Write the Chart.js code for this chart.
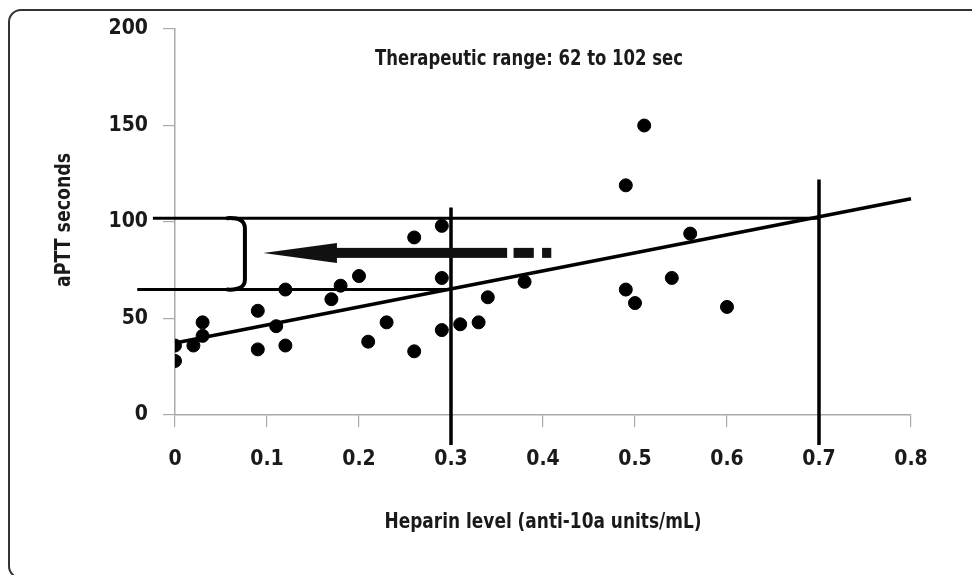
<!DOCTYPE html>
<html>
<head>
<meta charset="utf-8">
<script src="https://cdn.jsdelivr.net/npm/chart.js@4.4.1/dist/chart.umd.min.js"></script>
<style>
  html, body { margin: 0; padding: 0; background: #fff; }
  #wrap { width: 972px; height: 575px; position: relative; }
</style>
</head>
<body>
<div id="wrap"><canvas id="chart"></canvas></div>
<script>
// Heparin level (x) vs aPTT seconds (y)
const heparin = [0, 0, 0.02, 0.03, 0.03, 0.09, 0.09, 0.11, 0.12, 0.12, 0.17, 0.18, 0.20, 0.21, 0.23, 0.26,
    0.26, 0.29, 0.29, 0.29, 0.31, 0.33, 0.34, 0.38, 0.49, 0.49, 0.50, 0.51, 0.54, 0.56, 0.60];
const aptt = [36, 28, 36, 48, 41, 54, 34, 46, 65, 36, 60, 67, 72, 38, 48, 92,
    33, 98, 71, 44, 47, 48, 61, 69, 119, 65, 58, 150, 71, 94, 56];

// regression line
const fitX = [0, 0.8];
const fitY = [37.3, 112];

// therapeutic range lines
const rangeHigh = 102;
const rangeLow = 65;
const levelLow = 0.3;
const levelHigh = 0.7;

const xTicks = [0, 0.1, 0.2, 0.3, 0.4, 0.5, 0.6, 0.7, 0.8];
const yTicks = [0, 50, 100, 150, 200];

const FONT = "'DejaVu Sans Condensed', 'Liberation Sans Narrow', 'Roboto', sans-serif";

const points = heparin.map((x, i) => ({ x: x, y: aptt[i] }));

function lineSet(data, width) {
    return {
        type: 'scatter',
        data: data,
        showLine: true,
        borderColor: '#000',
        borderWidth: width,
        pointRadius: 0,
        pointHoverRadius: 0,
        clip: false
    };
}

// text squeezed to the width it has in the picture
function fitText(ctx, text, cx, cy, width) {
    const w = ctx.measureText(text).width;
    ctx.save();
    ctx.translate(cx, cy);
    ctx.scale(Math.min(1, width / w), 1);
    ctx.fillText(text, 0, 0);
    ctx.restore();
}

// frame, arrow, bracket and texts
const extras = {
    id: 'extras',
    beforeDraw(chart) {
        const ctx = chart.ctx;
        ctx.save();
        ctx.strokeStyle = '#333';
        ctx.lineWidth = 2;
        ctx.beginPath();
        ctx.roundRect(9, 10, 1000, 568, 12);
        ctx.stroke();
        ctx.restore();
    },
    afterDatasetsDraw(chart) {
        const ctx = chart.ctx;
        const x = chart.scales.x, y = chart.scales.y;
        ctx.save();
        ctx.fillStyle = '#111';
        ctx.strokeStyle = '#000';

        // arrow
        const ay = y.getPixelForValue(84);
        const tip = x.getPixelForValue(0.096);
        const head = x.getPixelForValue(0.176);
        ctx.beginPath();
        ctx.moveTo(tip, ay);
        ctx.lineTo(head, ay - 10);
        ctx.lineTo(head, ay + 10);
        ctx.closePath();
        ctx.fill();
        const segs = [[0.175, 0.361], [0.368, 0.390], [0.399, 0.409]];
        segs.forEach(s => {
            const a = x.getPixelForValue(s[0]), b = x.getPixelForValue(s[1]);
            ctx.fillRect(a, ay - 5, b - a, 10);
        });

        // bracket
        const bx = x.getPixelForValue(0.076);
        const bl = x.getPixelForValue(0.057);
        const top = y.getPixelForValue(rangeHigh), bot = y.getPixelForValue(rangeLow);
        ctx.lineWidth = 4;
        ctx.lineCap = 'round';
        ctx.beginPath();
        ctx.moveTo(bl, top);
        ctx.quadraticCurveTo(bx, top - 1, bx, top + 10);
        ctx.lineTo(bx, bot - 10);
        ctx.quadraticCurveTo(bx, bot + 1, bl, bot);
        ctx.stroke();

        // texts
        ctx.fillStyle = '#1a1a1a';
        ctx.textAlign = 'center';
        ctx.textBaseline = 'middle';
        ctx.font = 'bold 21px ' + FONT;
        fitText(ctx, 'Therapeutic range: 62 to 102 sec', 529, 60, 308);
        fitText(ctx, 'Heparin level (anti-10a units/mL)', 543, 523, 317);
        ctx.translate(65, 220);
        ctx.rotate(-Math.PI / 2);
        fitText(ctx, 'aPTT seconds', 0, 0, 134);
        ctx.restore();
    }
};

new Chart(document.getElementById('chart'), {
    type: 'scatter',
    data: {
        datasets: [
            {
                data: points,
                backgroundColor: '#000',
                borderColor: '#000',
                pointRadius: 6.5,
                pointHoverRadius: 6.5
            },
            lineSet(fitX.map((v, i) => ({ x: v, y: fitY[i] })), 3.5),
            lineSet([{ x: -0.024, y: rangeHigh }, { x: levelHigh, y: rangeHigh }], 3),
            lineSet([{ x: -0.041, y: rangeLow }, { x: levelLow, y: rangeLow }], 3),
            lineSet([{ x: levelLow, y: 107.5 }, { x: levelLow, y: -15.5 }], 3.5),
            lineSet([{ x: levelHigh, y: 122 }, { x: levelHigh, y: -15.5 }], 3.5)
        ]
    },
    options: {
        responsive: true,
        maintainAspectRatio: false,
        animation: false,
        events: [],
        layout: { padding: { left: 0, top: 29, right: 61, bottom: 0 } },
        plugins: {
            legend: { display: false },
            tooltip: { enabled: false }
        },
        scales: {
            x: {
                type: 'linear',
                min: 0,
                max: 0.8,
                afterFit: s => { s.height = 160; },
                afterBuildTicks: s => { s.ticks = xTicks.map(v => ({ value: v })); },
                border: { color: '#aaa', width: 1.5 },
                grid: { drawOnChartArea: false, color: '#aaa', tickLength: 12, lineWidth: 1.2 },
                ticks: {
                    color: '#1a1a1a',
                    padding: 20,
                    font: { family: FONT, size: 21, weight: 'bold' },
                    callback: v => String(v)
                }
            },
            y: {
                min: 0,
                max: 200,
                afterFit: s => { s.width = 175; },
                afterBuildTicks: s => { s.ticks = yTicks.map(v => ({ value: v })); },
                border: { color: '#aaa', width: 1.5 },
                grid: { drawOnChartArea: false, color: '#aaa', tickLength: 12, lineWidth: 1.2 },
                ticks: {
                    color: '#1a1a1a',
                    padding: 15,
                    font: { family: FONT, size: 21, weight: 'bold' }
                }
            }
        }
    },
    plugins: [extras]
});
</script>
</body>
</html>
